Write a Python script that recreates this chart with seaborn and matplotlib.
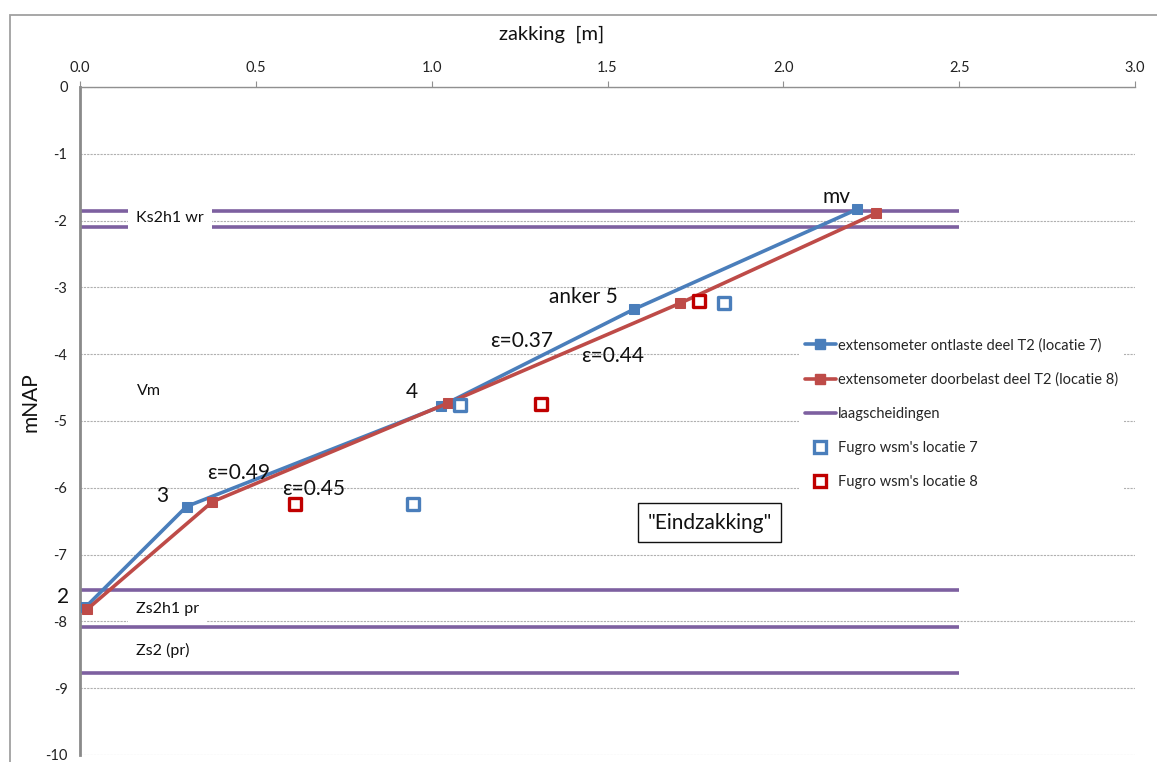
import matplotlib
matplotlib.use("Agg")
import matplotlib.pyplot as plt
import seaborn as sns
import pandas as pd
from matplotlib.patches import Rectangle
from matplotlib.lines import Line2D

# ---- data ----
ext7_x = [0.017, 0.303, 1.026, 1.574, 2.21]
ext7_y = [-7.78, -6.28, -4.78, -3.33, -1.83]
ext8_x = [0.020, 0.376, 1.047, 1.705, 2.264]
ext8_y = [-7.82, -6.21, -4.73, -3.24, -1.89]
fugro7_x = [0.946, 1.08, 1.832]
fugro7_y = [-6.24, -4.76, -3.24]
fugro8_x = [0.611, 1.312, 1.761]
fugro8_y = [-6.24, -4.74, -3.21]
layer_depths = [-1.85, -2.09, -7.53, -8.08, -8.77]
layer_xmax = 2.5
x_ticks = [0.0, 0.5, 1.0, 1.5, 2.0, 2.5, 3.0]
y_ticks = [0, -1, -2, -3, -4, -5, -6, -7, -8, -9, -10]

label7 = "extensometer ontlaste deel T2 (locatie 7)"
label8 = "extensometer doorbelast deel T2 (locatie 8)"
label_layers = "laagscheidingen"
label_f7 = "Fugro wsm's locatie 7"
label_f8 = "Fugro wsm's locatie 8"

BLUE = "#4a7ebb"
RED = "#be4b48"
PURPLE = "#7d60a0"
DRED = "#c00000"

sns.set_theme(style="white")
plt.rcParams["font.family"] = ["Lato", "DejaVu Sans"]

fig = plt.figure(figsize=(11.57, 7.62), dpi=100)
ax = fig.add_axes([80 / 1157, 1 - 755 / 762, (1135 - 80) / 1157, (755 - 87) / 762])

# outer chart border
fig.patches.append(Rectangle((10 / 1157, -0.05), 1.2, 1 - 15 / 762 + 0.05,
                             transform=fig.transFigure, fill=False,
                             edgecolor="#a0a0a0", linewidth=1.3, zorder=0))

# gridlines
for yv in y_ticks:
    ax.axhline(yv, color="#b0b0b0", linestyle=(0, (2, 1)), linewidth=0.8, zorder=0.5)

# layer boundaries
ax.hlines(layer_depths, 0, layer_xmax, colors=PURPLE, linewidth=2.6, zorder=1)

df7 = pd.DataFrame({"x": ext7_x, "y": ext7_y})
df8 = pd.DataFrame({"x": ext8_x, "y": ext8_y})
sns.lineplot(data=df7, x="x", y="y", ax=ax, color=BLUE, linewidth=2.6,
             marker="s", markersize=7, markeredgecolor=BLUE, sort=False, zorder=3)
sns.lineplot(data=df8, x="x", y="y", ax=ax, color=RED, linewidth=2.6,
             marker="s", markersize=7, markeredgecolor=RED, sort=False, zorder=3)
sns.scatterplot(x=fugro7_x, y=fugro7_y, ax=ax, marker="s", s=70,
                facecolor="white", edgecolor=BLUE, linewidth=2.4, zorder=4)
sns.scatterplot(x=fugro8_x, y=fugro8_y, ax=ax, marker="s", s=70,
                facecolor="white", edgecolor=DRED, linewidth=2.4, zorder=4)

ax.set_xlim(0, 3.0)
ax.set_ylim(-10, 0)
ax.xaxis.tick_top()
ax.xaxis.set_label_position("top")
ax.set_xticks(x_ticks)
ax.set_xticklabels([f"{v:.1f}" for v in x_ticks])
ax.set_yticks(y_ticks)
ax.set_yticklabels([str(v) for v in y_ticks])
ax.tick_params(axis="both", labelsize=10.5, colors="#222222", length=4,
               width=0.8, direction="out", pad=5)
ax.tick_params(axis="x", color="#909090")
ax.tick_params(axis="y", color="#909090")
ax.set_xlabel("zakking  [m]", fontsize=14.5, color="#111111")
ax.set_ylabel("mNAP", fontsize=15, color="#111111")
ax.xaxis.set_label_coords((552 - 80) / 1055, (755 - 34) / 668)
ax.yaxis.set_label_coords((31 - 80) / 1055, (755 - 402) / 668)
ax.xaxis.label.set_va("center")
ax.yaxis.label.set_va("center")

for s in ["right", "bottom"]:
    ax.spines[s].set_visible(False)
ax.spines["top"].set_color("#909090")
ax.spines["top"].set_linewidth(1.0)
ax.spines["left"].set_color("#8a8a8a")
ax.spines["left"].set_linewidth(2.0)

# annotations
txt = dict(color="#111111", zorder=6)
ax.text(2.19, -1.80, "mv", fontsize=15, ha="right", va="bottom", **txt)
ax.text(1.53, -3.30, "anker 5", fontsize=15, ha="right", va="bottom", **txt)
ax.text(0.962, -4.72, "4", fontsize=15, ha="right", va="bottom", **txt)
ax.text(0.25, -6.27, "3", fontsize=15, ha="right", va="bottom", **txt)
ax.text(-0.03, -7.78, "2", fontsize=15, ha="right", va="bottom", **txt)
ax.text(1.255, -3.95, "\u03b5=0.37", fontsize=15, ha="center", va="bottom", **txt)
ax.text(1.515, -4.17, "\u03b5=0.44", fontsize=15, ha="center", va="bottom", **txt)
ax.text(0.45, -5.93, "\u03b5=0.49", fontsize=15, ha="center", va="bottom", **txt)
ax.text(0.665, -6.17, "\u03b5=0.45", fontsize=15, ha="center", va="bottom", **txt)
ax.text(0.195, -4.55, "Vm", fontsize=11.5, ha="center", va="center", **txt)
ax.text(0.255, -1.96, "Ks2h1 wr", fontsize=11.5, ha="center", va="center",
        bbox=dict(boxstyle="square,pad=0.5", facecolor="white", edgecolor="none"), **txt)
ax.text(0.25, -7.82, "Zs2h1 pr", fontsize=11.5, ha="center", va="center",
        bbox=dict(boxstyle="square,pad=0.5", facecolor="white", edgecolor="none"), **txt)
ax.text(0.235, -8.44, "Zs2 (pr)", fontsize=11.5, ha="center", va="center", **txt)
ax.text(1.790, -6.52, "\"Eindzakking\"", fontsize=15, ha="center", va="center",
        bbox=dict(boxstyle="square,pad=0.45", facecolor="white", edgecolor="#111111",
                  linewidth=1.0), **txt)

handles = [
    Line2D([], [], color=BLUE, linewidth=2.6, marker="s", markersize=7),
    Line2D([], [], color=RED, linewidth=2.6, marker="s", markersize=7),
    Line2D([], [], color=PURPLE, linewidth=2.6),
    Line2D([], [], linestyle="none", marker="s", markersize=8.5,
           markerfacecolor="white", markeredgecolor=BLUE, markeredgewidth=2.4),
    Line2D([], [], linestyle="none", marker="s", markersize=8.5,
           markerfacecolor="white", markeredgecolor=DRED, markeredgewidth=2.4),
]
leg = ax.legend(handles, [label7, label8, label_layers, label_f7, label_f8],
                loc="upper left", bbox_to_anchor=(792 / 1157, 1 - 325 / 762),
                bbox_transform=fig.transFigure, frameon=True, fontsize=10.5,
                handlelength=2.1, handletextpad=0.15, labelspacing=1.38,
                borderpad=0.4, numpoints=1)
leg.get_frame().set_facecolor("white")
leg.get_frame().set_edgecolor("none")
leg.get_frame().set_alpha(1)
leg.get_frame().set_boxstyle("square", pad=0.0)
leg.set_zorder(7)

fig.savefig("out.png", dpi=100)
